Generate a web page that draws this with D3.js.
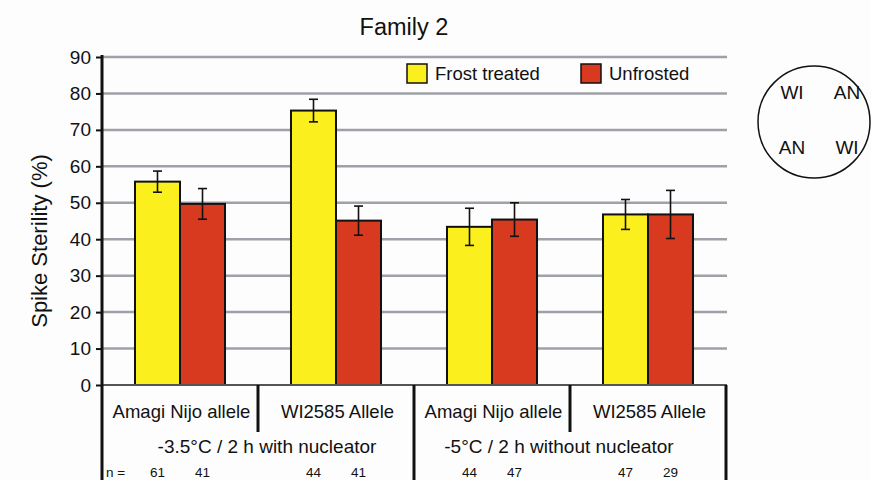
<!DOCTYPE html>
<html>
<head>
<meta charset="utf-8">
<script src="https://cdn.jsdelivr.net/npm/d3@7"></script>
<style>
  body { margin: 0; background: #fff; }
  text { font-family: "Liberation Sans", Arial, sans-serif; fill: #111; }
</style>
</head>
<body>
<div id="chart"></div>
<script>
// data
const groups = ["-3.5°C / 2 h with nucleator", "-5°C / 2 h without nucleator"];
const alleles = ["Amagi Nijo allele", "WI2585 Allele", "Amagi Nijo allele", "WI2585 Allele"];
const series = ["Frost treated", "Unfrosted"];
const frostMean = [55.8, 75.3, 43.4, 46.8];
const frostErr = [2.9, 3.1, 5.1, 4.1];
const unfrostMean = [49.7, 45.1, 45.4, 46.8];
const unfrostErr = [4.2, 4.0, 4.6, 6.6];
const nFrost = [61, 44, 44, 47];
const nUnfrost = [41, 41, 47, 29];
const yTicks = [0, 10, 20, 30, 40, 50, 60, 70, 80, 90];

const width = 871;
const height = 480;
const colors = { "Frost treated": "#fcef1e", "Unfrosted": "#d83a1f" };

const svg = d3
  .select("#chart")
  .append("svg")
  .attr("width", width)
  .attr("height", height);

svg.append("rect").attr("width", width).attr("height", height).attr("fill", "#fdfdfd");

const x0 = d3.scaleBand().domain(d3.range(alleles.length)).range([102, 726]);
const x1 = d3
  .scaleBand()
  .domain(series)
  .range([0, x0.bandwidth()])
  .paddingOuter(0.733);
const y = d3.scaleLinear().domain([0, 90]).range([385, 57]);

//gridlines
svg
  .selectAll(".grid")
  .data(yTicks.slice(1))
  .enter()
  .append("line")
  .attr("x1", 102)
  .attr("x2", 727)
  .attr("y1", (d) => y(d))
  .attr("y2", (d) => y(d))
  .attr("stroke", "#9ea1a7")
  .attr("stroke-width", 2.5);

//bars
const rows = alleles.map((a, i) => [
  { s: series[0], v: frostMean[i], e: frostErr[i], n: nFrost[i], i: i },
  { s: series[1], v: unfrostMean[i], e: unfrostErr[i], n: nUnfrost[i], i: i },
]).flat();

svg
  .selectAll(".bar")
  .data(rows)
  .enter()
  .append("rect")
  .attr("x", (d) => x0(d.i) + x1(d.s))
  .attr("y", (d) => y(d.v))
  .attr("width", x1.bandwidth())
  .attr("height", (d) => y(0) - y(d.v))
  .attr("fill", (d) => colors[d.s])
  .attr("stroke", "#111")
  .attr("stroke-width", 2);

//error bars
const cx = (d) => x0(d.i) + x1(d.s) + x1.bandwidth() / 2;
const err = svg.append("g").attr("stroke", "#111").attr("stroke-width", 1.6);
err
  .selectAll(".ev")
  .data(rows)
  .enter()
  .append("line")
  .attr("x1", cx)
  .attr("x2", cx)
  .attr("y1", (d) => y(d.v + d.e))
  .attr("y2", (d) => y(d.v - d.e));
[1, -1].forEach((sgn) => {
  err
    .selectAll(".cap" + sgn)
    .data(rows)
    .enter()
    .append("line")
    .attr("x1", (d) => cx(d) - 4.5)
    .attr("x2", (d) => cx(d) + 4.5)
    .attr("y1", (d) => y(d.v + sgn * d.e))
    .attr("y2", (d) => y(d.v + sgn * d.e));
});

//zero line
svg
  .append("line")
  .attr("x1", 102)
  .attr("x2", 727)
  .attr("y1", y(0))
  .attr("y2", y(0))
  .attr("stroke", "#555")
  .attr("stroke-width", 2);

//y axis
const yAxis = svg
  .append("g")
  .attr("transform", "translate(102,0)")
  .call(d3.axisLeft(y).tickValues(yTicks).tickSize(6).tickPadding(5));
yAxis.select(".domain").remove();
yAxis.selectAll(".tick line").attr("stroke", "#111").attr("stroke-width", 2);
yAxis
  .selectAll(".tick text")
  .style("font-size", "19px")
  .style("font-family", "Liberation Sans, Arial, sans-serif")
  .attr("fill", "#111");

svg
  .append("line")
  .attr("x1", 102)
  .attr("x2", 102)
  .attr("y1", 55)
  .attr("y2", height)
  .attr("stroke", "#111")
  .attr("stroke-width", 3);

//table lines below the axis
svg
  .selectAll(".sep")
  .data(d3.range(1, alleles.length + 1))
  .enter()
  .append("line")
  .attr("x1", (d) => x0.range()[0] + d * x0.step())
  .attr("x2", (d) => x0.range()[0] + d * x0.step())
  .attr("y1", y(0))
  .attr("y2", (d) => (d % 2 === 0 ? height : 432))
  .attr("stroke", "#111")
  .attr("stroke-width", 3);

//allele labels
svg
  .selectAll(".allele")
  .data(alleles)
  .enter()
  .append("text")
  .attr("x", (d, i) => x0(i) + x0.bandwidth() / 2 + 1.5)
  .attr("y", 418)
  .attr("text-anchor", "middle")
  .style("font-size", "18.5px")
  .text((d) => d);

//treatment labels
const groupShift = [9, -11];
svg
  .selectAll(".group")
  .data(groups)
  .enter()
  .append("text")
  .attr("x", (d, i) => x0(i * 2) + x0.bandwidth() + groupShift[i])
  .attr("y", 453)
  .attr("text-anchor", "middle")
  .style("font-size", "19px")
  .text((d) => d);

//n labels
svg
  .append("text")
  .attr("x", 106)
  .attr("y", 477)
  .style("font-size", "13.5px")
  .text("n  =");
svg
  .selectAll(".n")
  .data(rows)
  .enter()
  .append("text")
  .attr("x", cx)
  .attr("y", 477)
  .attr("text-anchor", "middle")
  .style("font-size", "13.5px")
  .text((d) => d.n);

//title
svg
  .append("text")
  .attr("x", 404)
  .attr("y", 35)
  .attr("text-anchor", "middle")
  .style("font-size", "23.5px")
  .text("Family 2");

//y label
svg
  .append("text")
  .attr("transform", "translate(47,241) rotate(-90)")
  .attr("text-anchor", "middle")
  .style("font-size", "22px")
  .text("Spike Sterility (%)");

//legend
const legendX = [407, 581];
const legend = svg
  .selectAll(".legend")
  .data(series)
  .enter()
  .append("g")
  .attr("transform", (d, i) => `translate(${legendX[i]},64)`);
legend
  .append("rect")
  .attr("width", 20)
  .attr("height", 19)
  .attr("fill", (d) => colors[d])
  .attr("stroke", "#111")
  .attr("stroke-width", 1.5);
legend
  .append("text")
  .attr("x", 28)
  .attr("y", 16)
  .style("font-size", "18.5px")
  .text((d) => d);

//plot layout circle
const layout = ["WI", "AN", "AN", "WI"];
svg
  .append("circle")
  .attr("cx", 814)
  .attr("cy", 122)
  .attr("r", 56)
  .attr("fill", "none")
  .attr("stroke", "#111")
  .attr("stroke-width", 1.5);
svg
  .selectAll(".plot")
  .data(layout)
  .enter()
  .append("text")
  .attr("x", (d, i) => (i % 2 === 0 ? 792 : 847))
  .attr("y", (d, i) => (i < 2 ? 99 : 154))
  .attr("text-anchor", "middle")
  .style("font-size", "19px")
  .text((d) => d);
</script>
</body>
</html>
